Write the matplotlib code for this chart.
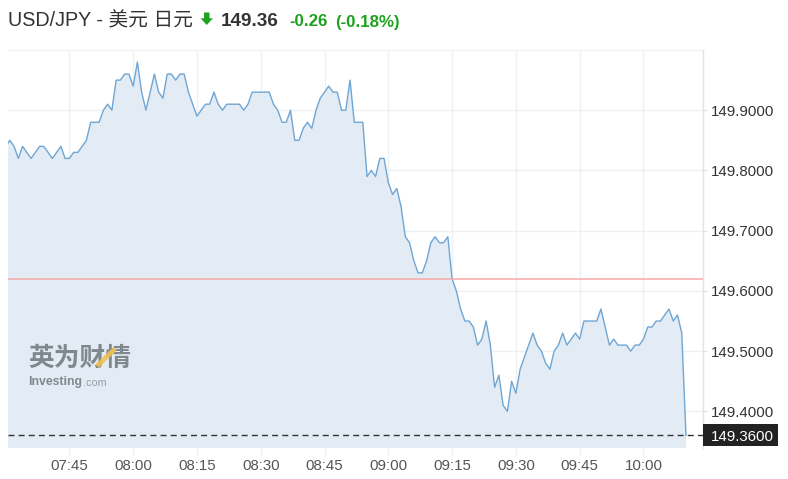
import numpy as np
import matplotlib
matplotlib.use("Agg")
import matplotlib.pyplot as plt
from matplotlib.patches import Polygon, Rectangle
from matplotlib.lines import Line2D

# ---------------- data ----------------
start_time = "07:30"          # first sample, 1-minute bars
prices = [
    149.84,
    149.85, 149.84, 149.82, 149.84, 149.83, 149.82, 149.83, 149.84, 149.84, 149.83,
    149.82, 149.83, 149.84, 149.82, 149.82, 149.83, 149.83, 149.84, 149.85, 149.88,
    149.88, 149.88, 149.90, 149.91, 149.90, 149.95, 149.95, 149.96, 149.96, 149.94,
    149.98, 149.93, 149.90, 149.93, 149.96, 149.93, 149.92, 149.96, 149.96, 149.95,
    149.96, 149.96, 149.93, 149.91, 149.89, 149.90, 149.91, 149.91, 149.93, 149.91,
    149.90, 149.91, 149.91, 149.91, 149.91, 149.90, 149.91, 149.93, 149.93, 149.93,
    149.93, 149.93, 149.91, 149.90, 149.88, 149.88, 149.90, 149.85, 149.85, 149.87,
    149.88, 149.87, 149.90, 149.92, 149.93, 149.94, 149.93, 149.93, 149.90, 149.90,
    149.95, 149.88, 149.88, 149.88, 149.79, 149.80, 149.79, 149.82, 149.82, 149.78,
    149.76, 149.77, 149.74, 149.69, 149.68, 149.65, 149.63, 149.63, 149.65, 149.68,
    149.69, 149.68, 149.68, 149.69, 149.62, 149.60, 149.57, 149.55, 149.55, 149.54,
    149.51, 149.52, 149.55, 149.51, 149.44, 149.46, 149.41, 149.40, 149.45, 149.43,
    149.47, 149.49, 149.51, 149.53, 149.51, 149.50, 149.48, 149.47, 149.50, 149.51,
    149.53, 149.51, 149.52, 149.53, 149.52, 149.55, 149.55, 149.55, 149.55, 149.57,
    149.54, 149.51, 149.52, 149.51, 149.51, 149.51, 149.50, 149.51, 149.51, 149.52,
    149.54, 149.54, 149.55, 149.55, 149.56, 149.57, 149.55, 149.56, 149.53, 149.36,
]
prev_close = 149.62
last_price = 149.36
change = -0.26
change_pct = -0.18
x_tick_labels = ["07:45", "08:00", "08:15", "08:30", "08:45",
                 "09:00", "09:15", "09:30", "09:45", "10:00"]
y_ticks = [149.4, 149.5, 149.6, 149.7, 149.8, 149.9]
title_text = "USD/JPY - 美元 日元"


def to_min(s):
    h, m = s.split(":")
    return int(h) * 60 + int(m)


t0 = to_min(start_time)
x = np.arange(len(prices))                       # minutes since start
xt = [to_min(s) - t0 for s in x_tick_labels]

# ---------------- figure ----------------
W, H = 788, 479
fig = plt.figure(figsize=(W / 100, H / 100), dpi=100)
fig.patch.set_facecolor("white")

ax_l, ax_r, ax_t, ax_b = 8, 703, 50, 447.5
ax = fig.add_axes([ax_l / W, (H - ax_b) / H, (ax_r - ax_l) / W, (ax_b - ax_t) / H])
ax.set_facecolor("white")

ax.set_xlim(0.57, 164.0)
ax.set_ylim(149.34, 150.0)

grid_c = "#eef1f4"
for v in y_ticks + [150.0]:
    ax.axhline(v, color=grid_c, lw=1, zorder=0)
for v in xt:
    ax.axvline(v, color=grid_c, lw=1, zorder=0)

ax.fill_between(x, prices, 149.0, color="#e3ecf4", lw=0, zorder=1)
ax.plot(x, prices, color="#6fa6d4", lw=1.0, zorder=3, solid_joinstyle="round")

ax.axhline(prev_close, color="#f7a8a8", lw=1.1, zorder=4)
ax.axhline(last_price, color="#333333", lw=1.0, ls=(0, (4.3, 3.0)), zorder=4)

for s in ["top", "left", "bottom"]:
    ax.spines[s].set_visible(False)
ax.spines["right"].set_color("#e0e4e8")
ax.spines["right"].set_linewidth(1)

tick_font = ["Liberation Sans", "DejaVu Sans"]
ax.set_xticks(xt)
ax.set_xticklabels(x_tick_labels, fontsize=10.8, color="#555555", family=tick_font)
ax.tick_params(axis="x", length=5, color=grid_c, pad=3.5, width=1)

ax.yaxis.tick_right()
ax.set_yticks(y_ticks)
ax.set_yticklabels([f"{v:.4f}" for v in y_ticks], fontsize=10.8,
                   color="#333333", family=tick_font)
ax.tick_params(axis="y", length=3, color="#e0e4e8", pad=3, width=1)

# last price badge (pixel-sized box anchored at the data y of the last price)
fig.canvas.draw()
y_px = ax.transData.transform((0, last_price))[1]
fig.patches.append(Rectangle((ax_r / W, (y_px - 11) / H), 75 / W, 22 / H,
                             transform=fig.transFigure, fc="#222222",
                             ec="none", zorder=10))
fig.text((ax_r + 8) / W, y_px / H, f"{last_price:.4f}", fontsize=10.8,
         color="white", family=tick_font, ha="left", va="center_baseline",
         zorder=11)

# watermark
wm_t = ax.text(0.029, 0.205, "英为财情", transform=ax.transAxes, fontsize=18.5,
               fontweight="bold", color="#6f757b", alpha=0.85,
               family=["Noto Sans CJK SC", "DejaVu Sans"], zorder=2)
ax.add_line(Line2D([0.128, 0.154], [0.205, 0.248], transform=ax.transAxes,
                   color="#f2c14e", lw=3.4, alpha=0.9, zorder=2,
                   solid_capstyle="butt"))
inv = ax.text(0.029, 0.158, "Investing", transform=ax.transAxes, fontsize=8.8,
              fontweight="bold", color="#6f757b", alpha=0.85,
              family=tick_font, zorder=2)
ax.annotate(".com", xy=(1, 0), xycoords=inv, xytext=(0.3, 0),
            textcoords="offset points", ha="left", va="bottom",
            fontsize=7.8, color="#8a9096", alpha=0.85, family=tick_font,
            zorder=2)


# ---------------- header ----------------
def fx(px):
    return px / W


def fy(py):
    return (H - py) / H


base = 26.5
hdr_font = ["Liberation Sans", "Noto Sans CJK SC", "DejaVu Sans"]
fig.text(fx(8), fy(base), title_text, fontsize=14.2, color="#333333",
         family=hdr_font, va="baseline", ha="left")

green = "#1fa21f"
arrow_px = [(204, 12.5), (209.5, 12.5), (209.5, 18.3), (213, 18.3),
            (206.75, 25), (200.5, 18.3), (204, 18.3)]
fig.patches.append(Polygon([(fx(a), fy(b)) for a, b in arrow_px],
                           closed=True, transform=fig.transFigure,
                           fc=green, ec="none"))

fig.text(fx(221), fy(base), f"{last_price:.2f}", fontsize=13.6,
         fontweight="bold", color="#333333", family=hdr_font, va="baseline")
fig.text(fx(289), fy(base), f"{change:.2f}", fontsize=12.2,
         fontweight="bold", color=green, family=hdr_font, va="baseline")
fig.text(fx(335), fy(base), f"({change_pct:.2f}%)", fontsize=12.2,
         fontweight="bold", color=green, family=hdr_font, va="baseline")

fig.savefig("out.png", dpi=100, facecolor="white")
